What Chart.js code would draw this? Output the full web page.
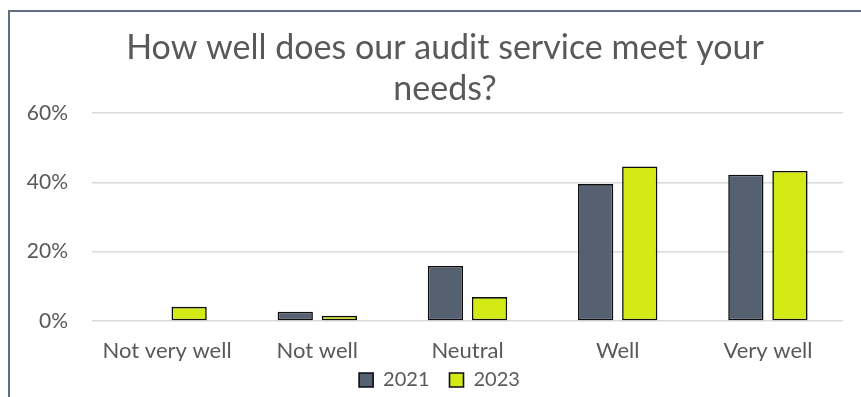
<!DOCTYPE html>
<html>
<head>
<meta charset="utf-8">
<script src="https://cdn.jsdelivr.net/npm/chart.js@4"></script>
<style>
  html, body { margin: 0; padding: 0; background: #ffffff; overflow: hidden; }
  #frame { position: absolute; left: 8px; top: 10px; width: 900px; height: 420px;
           border-left: 2px solid #5f6d7d; border-top: 2px solid #5f6d7d; }
  #wrap { position: absolute; left: 0; top: 0; width: 861px; height: 397px; }
</style>
</head>
<body>
<div id="frame"></div>
<div id="wrap"><canvas id="c" width="861" height="397"></canvas></div>
<script>
const categories = ["Not very well", "Not well", "Neutral", "Well", "Very well"];
const seriesNames = ["2021", "2023"];
const values2021 = [null, 2.7, 15.9, 39.5, 42.2];
const values2023 = [4.1, 1.5, 6.9, 44.6, 43.3];
const yTicks = [0, 20, 40, 60];
const titleLines = ["How well does our audit service meet your", "needs?"];

const textColor = "#595959";
const fontFamily = "Lato, 'Open Sans', sans-serif";

// nudge title / legend so they sit where the original (wider) chart frame centres them
const blockShift = {
  id: 'blockShift',
  afterUpdate(chart) {
    const t = chart.titleBlock;
    if (t) { t.left += 23.5; t.right += 23.5; }
    const l = chart.legend;
    if (l) { l.left += 18; l.right += 18; l.top -= 11; l.bottom -= 11; }
  }
};

new Chart(document.getElementById('c'), {
  type: 'bar',
  data: {
    labels: categories,
    datasets: [
      { label: seriesNames[0], data: values2021, backgroundColor: '#556170', borderColor: '#0d0d0d', borderWidth: 1.6, borderSkipped: false },
      { label: seriesNames[1], data: values2023, backgroundColor: '#d4ea14', borderColor: '#0d0d0d', borderWidth: 1.6, borderSkipped: false }
    ]
  },
  options: {
    responsive: false,
    animation: false,
    events: [],
    layout: { padding: { left: 0, right: 18, top: 0, bottom: -14 } },
    datasets: { bar: { categoryPercentage: 0.587, barPercentage: 0.8 } },
    plugins: {
      title: {
        display: true,
        text: titleLines,
        color: textColor,
        font: { family: fontFamily, size: 34, weight: 'normal', lineHeight: 1.206 },
        padding: { top: 28, bottom: 3 }
      },
      legend: {
        display: true,
        position: 'bottom',
        labels: {
          color: textColor,
          font: { family: fontFamily, size: 20 },
          boxWidth: 14,
          boxHeight: 14,
          padding: 20
        }
      },
      tooltip: { enabled: false }
    },
    scales: {
      x: {
        grid: { display: false, drawTicks: false },
        border: { display: false },
        ticks: { color: textColor, font: { family: fontFamily, size: 22 }, padding: 17, maxRotation: 0 },
        afterFit(s) { s.height = 40; }
      },
      y: {
        min: 0, max: 60,
        afterBuildTicks(s) { s.ticks = yTicks.map(v => ({ value: v })); },
        grid: { color: '#d9d9d9', lineWidth: 1.5, drawTicks: false },
        border: { display: false },
        ticks: { color: textColor, font: { family: fontFamily, size: 21 }, padding: 24, callback: v => v + '%' },
        afterFit(s) { s.width = 92; }
      }
    }
  },
  plugins: [blockShift]
});
</script>
</body>
</html>
